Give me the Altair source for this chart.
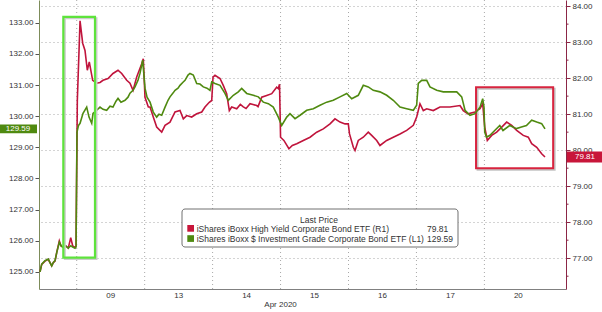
import altair as alt
import pandas as pd

# ---------------- data ----------------
day_pos = [1.5, 2.5, 3.5, 4.5, 5.5, 6.5, 7.5]
day_labels = ["09", "13", "14", "15", "16", "17", "20"]
day_bounds = [1, 2, 3, 4, 5, 6, 7]
x_domain = [0.445, 8.201]
month_label = "Apr 2020"

# iShares iBoxx High Yield Corporate Bond ETF (right axis)
hyg_t = [0.460, 0.485, 0.533, 0.582, 0.607, 0.632, 0.656, 0.681, 0.706, 0.744, 0.769, 0.803, 0.838, 0.876, 0.912, 0.941, 0.975, 0.990,
         1.009, 1.049, 1.088, 1.122, 1.156, 1.185, 1.235, 1.294, 1.343, 1.387, 1.461, 1.534, 1.608, 1.662, 1.736, 1.784, 1.829, 1.883, 1.957, 1.980,
         2.005, 2.054, 2.079, 2.127, 2.177, 2.251, 2.300, 2.373, 2.447, 2.520, 2.569, 2.619, 2.692, 2.766, 2.840, 2.888, 2.951, 2.987,
         3.006, 3.035, 3.109, 3.157, 3.207, 3.246, 3.281, 3.355, 3.408, 3.452, 3.492, 3.551, 3.595, 3.649, 3.669, 3.723, 3.796, 3.870, 3.943, 3.967, 3.985,
         4.000, 4.049, 4.123, 4.173, 4.238, 4.335, 4.434, 4.532, 4.629, 4.728, 4.801, 4.875, 4.949, 4.997,
         5.015, 5.071, 5.096, 5.144, 5.218, 5.291, 5.341, 5.415, 5.463, 5.562, 5.659, 5.758, 5.856, 5.954, 6.003,
         6.052, 6.101, 6.151, 6.248, 6.346, 6.494, 6.641, 6.689, 6.759, 6.862, 6.935, 6.975,
         7.005, 7.043, 7.107, 7.181, 7.255, 7.328, 7.402, 7.475, 7.572, 7.646, 7.696, 7.770, 7.843, 7.892]
hyg_v = [76.62, 76.83, 76.92, 76.97, 76.88, 76.79, 76.88, 76.92, 77.16, 77.48, 77.34, 77.30, 77.34, 77.28, 77.57, 77.34, 77.30, 77.34,
         81.38, 83.59, 82.97, 82.77, 82.22, 82.45, 81.94, 81.86, 81.88, 81.94, 81.99, 82.13, 82.22, 82.13, 81.94, 81.86, 81.66, 82.03, 82.40, 82.54,
         81.47, 81.20, 81.20, 80.92, 80.64, 80.50, 80.69, 80.78, 81.06, 81.10, 80.87, 80.96, 80.92, 81.01, 81.06, 81.20, 81.33, 81.38,
         82.03, 82.08, 81.99, 81.80, 81.57, 81.10, 81.20, 81.15, 81.27, 81.20, 81.16, 81.29, 81.27, 81.24, 81.21, 81.47, 81.52, 81.57, 81.75, 81.71, 81.83,
         80.36, 80.27, 80.04, 80.13, 80.18, 80.27, 80.36, 80.50, 80.59, 80.73, 80.87, 80.78, 80.73, 80.73,
         80.45, 80.08, 79.99, 80.27, 80.36, 80.50, 80.41, 80.27, 80.13, 80.27, 80.36, 80.45, 80.55, 80.69, 80.92,
         81.29, 81.10, 81.15, 81.10, 81.20, 81.20, 81.24, 81.10, 81.01, 81.06, 81.15, 81.29,
         80.64, 80.27, 80.41, 80.50, 80.64, 80.78, 80.69, 80.55, 80.41, 80.36, 80.18, 80.08, 79.90, 79.81]

# iShares iBoxx $ Investment Grade Corporate Bond ETF (left axis)
lqd_t = [0.460, 0.485, 0.533, 0.582, 0.607, 0.632, 0.656, 0.681, 0.706, 0.744, 0.769, 0.803, 0.838, 0.876, 0.912, 0.941, 0.975, 0.990,
         1.004, 1.026, 1.049, 1.093, 1.147, 1.181, 1.221, 1.240, 1.294, 1.343, 1.387, 1.441, 1.490, 1.534, 1.578, 1.608, 1.652, 1.711, 1.755, 1.784, 1.829, 1.858, 1.902, 1.932, 1.971,
         2.005, 2.035, 2.079, 2.127, 2.177, 2.211, 2.251, 2.300, 2.344, 2.373, 2.417, 2.447, 2.491, 2.520, 2.564, 2.594, 2.638, 2.667, 2.716, 2.766, 2.814, 2.863, 2.917, 2.961, 2.987,
         3.035, 3.109, 3.182, 3.231, 3.305, 3.378, 3.428, 3.502, 3.599, 3.673, 3.746, 3.820, 3.893, 3.967,
         4.017, 4.091, 4.139, 4.213, 4.287, 4.385, 4.482, 4.581, 4.679, 4.776, 4.875, 4.974,
         5.047, 5.144, 5.218, 5.291, 5.365, 5.463, 5.562, 5.659, 5.758, 5.856, 5.954, 6.003,
         6.027, 6.077, 6.151, 6.199, 6.298, 6.395, 6.494, 6.593, 6.666, 6.715, 6.788, 6.862, 6.935, 6.975, 6.994,
         7.005, 7.030, 7.078, 7.152, 7.226, 7.274, 7.373, 7.472, 7.545, 7.619, 7.696, 7.770, 7.843, 7.892]
lqd_v = [125.00, 125.25, 125.36, 125.41, 125.30, 125.19, 125.30, 125.36, 125.62, 125.95, 125.84, 125.78, 125.84, 125.76, 125.84, 125.80, 125.76, 125.80,
         129.49, 129.70, 129.77, 130.09, 130.29, 129.97, 129.77, 130.09, 130.19, 130.29, 130.22, 130.19, 130.32, 130.29, 130.48, 130.57, 130.45, 130.51, 130.61, 130.74, 130.83, 130.94, 131.15, 131.38, 131.80,
         130.90, 130.61, 130.45, 130.13, 129.97, 130.06, 130.03, 130.29, 130.51, 130.62, 130.74, 130.83, 130.90, 130.99, 131.09, 131.15, 131.32, 131.37, 131.32, 131.05, 131.03, 130.94, 130.90, 130.83, 131.10,
         131.05, 130.99, 130.73, 130.51, 130.67, 130.78, 130.89, 130.73, 130.67, 130.62, 130.45, 130.40, 130.29, 129.97,
         129.70, 129.97, 130.08, 129.92, 130.03, 130.19, 130.24, 130.35, 130.45, 130.51, 130.62, 130.73,
         130.56, 130.67, 130.99, 130.94, 130.83, 130.78, 130.67, 130.51, 130.29, 130.24, 130.19, 130.35,
         131.05, 131.15, 131.15, 130.94, 130.83, 130.78, 130.78, 130.78, 130.62, 130.19, 130.03, 130.08, 130.29, 130.56, 130.29,
         129.49, 129.33, 129.38, 129.54, 129.70, 129.54, 129.70, 129.60, 129.65, 129.70, 129.87, 129.81, 129.76, 129.59]

left_ticks = [125, 126, 127, 128, 129, 130, 131, 132, 133]
right_ticks = [77, 78, 79, 80, 81, 82, 83, 84]
right_minor = [76.5, 77.5, 78.5, 79.5, 80.5, 81.5, 82.5, 83.5]
left_domain = [124.45, 133.73]
right_domain = [76.145, 84.17]

green_box_t = [0.803, 1.269]
green_box_v = [125.46, 133.19]
red_box_t = [6.877, 8.012]
red_box_v = [79.50, 81.75]

legend_title = "Last Price"
legend_names = ["iShares iBoxx High Yield Corporate Bond ETF  (R1)",
                "iShares iBoxx $ Investment Grade Corporate Bond ETF  (L1)"]

# ---------------- style ----------------
RED = "#c0143c"
GREEN = "#4f8a10"
FONT = "Liberation Sans"
TXT = "#333333"
W, H = 527, 289
LEG_FS = 8.5

x_scale = alt.Scale(domain=x_domain, nice=False, zero=False)
x_axis = alt.Axis(labels=False, ticks=False, grid=False, domainColor="#808080", title=None)

r_scale = alt.Scale(domain=right_domain, nice=False, zero=False)
r_axis = alt.Axis(orient="right", values=right_ticks, format=".2f", grid=True, gridDash=[1, 3],
                  gridColor="#a8a8a8", domainColor="#8b2646", tickColor="#8b2646", tickSize=4,
                  labelPadding=2, labelFontSize=8, labelColor=TXT, labelFont=FONT, title=None)
l_scale = alt.Scale(domain=left_domain, nice=False, zero=False)
l_axis = alt.Axis(orient="left", values=left_ticks, format=".2f", grid=False,
                  domainColor="#7d8c5a", tickColor="#555555", tickSize=4, labelPadding=2,
                  labelFontSize=8, labelColor=TXT, labelFont=FONT, title=None)


def X(field):
    return alt.X(field, scale=x_scale, axis=x_axis)


def YR(field):
    return alt.Y(field, scale=r_scale, axis=r_axis)


def YL(field):
    return alt.Y(field, scale=l_scale, axis=l_axis)


# vertical day grid, day labels
grid_df = pd.DataFrame({"t": day_bounds})
vgrid = alt.Chart(grid_df).mark_rule(color="#a8a8a8", strokeDash=[1, 3], strokeWidth=1).encode(x=X("t:Q"))
days_df = pd.DataFrame({"t": day_pos, "lbl": day_labels})
day_text = alt.Chart(days_df).mark_text(fontSize=8, font=FONT, color=TXT, align="center", baseline="middle").encode(
    x=X("t:Q"), y=alt.value(H + 7), text="lbl:N"
)
month_df = pd.DataFrame({"t": [4.0], "lbl": [month_label]})
month_text = alt.Chart(month_df).mark_text(fontSize=8, font=FONT, color=TXT, align="center", baseline="middle").encode(
    x=X("t:Q"), y=alt.value(H + 16), text="lbl:N"
)

# ---------------- right (HYG) ----------------
hyg_df = pd.DataFrame({"t": hyg_t, "v": hyg_v})
red_line = alt.Chart(hyg_df).mark_line(color=RED, strokeWidth=1.6).encode(x=X("t:Q"), y=YR("v:Q"))
minor_df = pd.DataFrame({"m": right_minor})
red_minor = alt.Chart(minor_df).mark_rule(color="#8b2646", strokeWidth=1).encode(
    x=alt.value(W), x2=alt.value(W + 2.5), y=YR("m:Q"))
rbox_df = pd.DataFrame({"t1": [red_box_t[0]], "t2": [red_box_t[1]], "v1": [red_box_v[0]], "v2": [red_box_v[1]]})
red_box_shadow = alt.Chart(rbox_df).mark_rect(fill="transparent", stroke="#c4c4c4", strokeWidth=2,
                                              xOffset=1.5, yOffset=1.5, x2Offset=1.5, y2Offset=1.5).encode(
    x=X("t1:Q"), x2="t2:Q", y=YR("v1:Q"), y2="v2:Q")
red_box = alt.Chart(rbox_df).mark_rect(fill="transparent", stroke="#d8243f", strokeWidth=2).encode(
    x=X("t1:Q"), x2="t2:Q", y=YR("v1:Q"), y2="v2:Q")
rlast_df = pd.DataFrame({"v": [hyg_v[-1]], "lbl": ["%.2f" % hyg_v[-1]]})
red_badge = alt.Chart(rlast_df).mark_point(shape="M-1,-0.32L1,-0.32L1,0.32L-1,0.32Z", filled=True,
                                           size=35 * 35, opacity=1, color="#c8163a", strokeWidth=0).encode(
    x=alt.value(W + 18.5), y=YR("v:Q"))
red_badge_txt = alt.Chart(rlast_df).mark_text(color="white", fontSize=8, font=FONT, align="center",
                                              baseline="middle").encode(
    x=alt.value(W + 19), y=YR("v:Q"), text="lbl:N")
red_group = alt.layer(red_line, red_minor, red_box_shadow, red_box, red_badge, red_badge_txt)

# ---------------- left (LQD) ----------------
lqd_df = pd.DataFrame({"t": lqd_t, "v": lqd_v})
green_line = alt.Chart(lqd_df).mark_line(color=GREEN, strokeWidth=1.6).encode(x=X("t:Q"), y=YL("v:Q"))
gbox_df = pd.DataFrame({"t1": [green_box_t[0]], "t2": [green_box_t[1]], "v1": [green_box_v[0]], "v2": [green_box_v[1]]})
green_box_shadow = alt.Chart(gbox_df).mark_rect(fill="transparent", stroke="#cccccc", strokeWidth=2,
                                                xOffset=1.5, yOffset=1.5, x2Offset=1.5, y2Offset=1.5).encode(
    x=X("t1:Q"), x2="t2:Q", y=YL("v1:Q"), y2="v2:Q")
green_box = alt.Chart(gbox_df).mark_rect(fill="transparent", stroke="#5ee33c", strokeWidth=2.2).encode(
    x=X("t1:Q"), x2="t2:Q", y=YL("v1:Q"), y2="v2:Q")
glast_df = pd.DataFrame({"v": [lqd_v[-1]], "lbl": ["%.2f" % lqd_v[-1]]})
green_badge = alt.Chart(glast_df).mark_point(shape="M-1,-0.24L1,-0.24L1,0.24L-1,0.24Z", filled=True,
                                             size=37 * 37, opacity=1, color=GREEN, strokeWidth=0).encode(
    x=alt.value(-20.5), y=YL("v:Q"))
green_badge_txt = alt.Chart(glast_df).mark_text(color="white", fontSize=8, font=FONT, align="center",
                                                baseline="middle").encode(
    x=alt.value(-21), y=YL("v:Q"), text="lbl:N")
green_group = alt.layer(green_line, green_box_shadow, green_box, green_badge, green_badge_txt)

# ---------------- legend box ----------------
one = pd.DataFrame({"a": [0]})
leg_box = alt.Chart(one).mark_rect(fill="white", stroke="#707070", strokeWidth=1, cornerRadius=3).encode(
    x=alt.value(143), x2=alt.value(419), y=alt.value(209), y2=alt.value(247))
leg_title = alt.Chart(one).mark_text(fontSize=LEG_FS, font=FONT, color=TXT, align="center", baseline="middle",
                                     text=legend_title).encode(x=alt.value(280), y=alt.value(219.5))
leg_sq1 = alt.Chart(one).mark_rect(color="#c8163a").encode(
    x=alt.value(148.3), x2=alt.value(155), y=alt.value(225), y2=alt.value(231.7))
leg_sq2 = alt.Chart(one).mark_rect(color=GREEN).encode(
    x=alt.value(148.3), x2=alt.value(155), y=alt.value(235.2), y2=alt.value(241.9))
leg_t1 = alt.Chart(one).mark_text(fontSize=LEG_FS, font=FONT, color=TXT, align="left", baseline="middle",
                                  text=legend_names[0]).encode(x=alt.value(157.7), y=alt.value(228.5))
leg_t2 = alt.Chart(one).mark_text(fontSize=LEG_FS, font=FONT, color=TXT, align="left", baseline="middle",
                                  text=legend_names[1]).encode(x=alt.value(157.7), y=alt.value(238.7))
leg_v1 = alt.Chart(one).mark_text(fontSize=LEG_FS, font=FONT, color=TXT, align="left", baseline="middle",
                                  text="%.2f" % hyg_v[-1]).encode(x=alt.value(388), y=alt.value(228.5))
leg_v2 = alt.Chart(one).mark_text(fontSize=LEG_FS, font=FONT, color=TXT, align="left", baseline="middle",
                                  text="%.2f" % lqd_v[-1]).encode(x=alt.value(388), y=alt.value(238.7))
legend = alt.layer(leg_box, leg_title, leg_sq1, leg_sq2, leg_t1, leg_t2, leg_v1, leg_v2)

chart = alt.layer(vgrid, day_text, month_text, red_group, green_group, legend).resolve_scale(
    y="independent"
).properties(
    width=W, height=H,
    autosize=alt.AutoSizeParams(type="none"),
    padding={"left": 39, "top": 0, "right": 36, "bottom": 23},
    background="white",
).configure_view(strokeWidth=0)

chart.save("out.html", embed_options={"renderer": "svg", "actions": False})
